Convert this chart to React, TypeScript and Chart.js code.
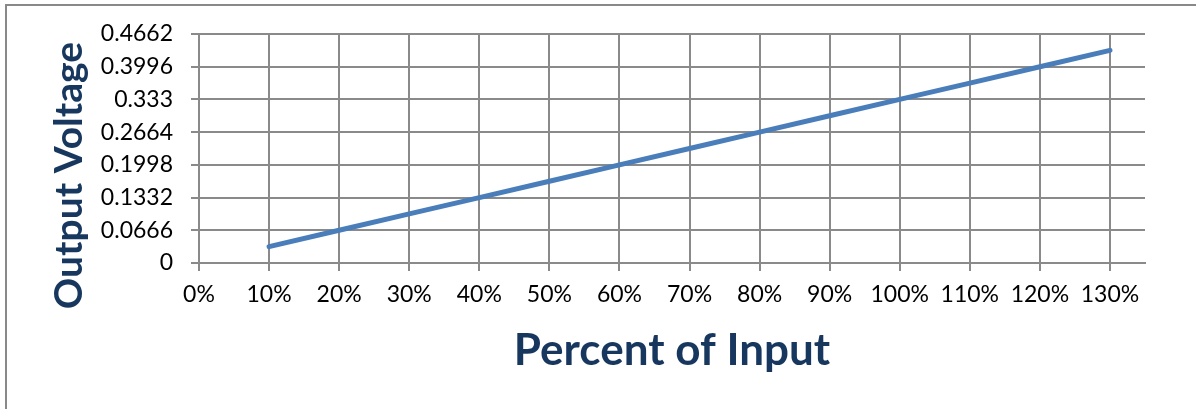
import React, { useEffect, useRef } from "react";
import { Chart, registerables } from "chart.js";

Chart.register(...registerables);

const xValues = [10, 20, 30, 40, 50, 60, 70, 80, 90, 100, 110, 120, 130];
const yValues = [0.0333, 0.0666, 0.0999, 0.1332, 0.1665, 0.1998, 0.2331, 0.2664, 0.2997, 0.333, 0.3663, 0.3996, 0.4329];
const xTicks = [0, 10, 20, 30, 40, 50, 60, 70, 80, 90, 100, 110, 120, 130];
const yTicks = [0, 0.0666, 0.1332, 0.1998, 0.2664, 0.333, 0.3996, 0.4662];
const xTitle = "Percent of Input";
const yTitle = "Output Voltage";

const TITLE_COLOR = "#17375E";
const GRID_COLOR = "#8a8a8a";

export default function App() {
  const ref = useRef<HTMLCanvasElement | null>(null);

  useEffect(() => {
    if (!ref.current) return;
    const yTitlePlugin = {
      id: "yTitlePlugin",
      afterDraw(chart: any) {
        const ctx = chart.ctx;
        ctx.save();
        ctx.translate(82, 175.5);
        ctx.rotate(-Math.PI / 2);
        ctx.font = "bold 39px Lato";
        ctx.fillStyle = TITLE_COLOR;
        ctx.textAlign = "center";
        ctx.textBaseline = "alphabetic";
        ctx.fillText(yTitle, 0, 0);
        ctx.restore();
      },
    };
    const chart = new Chart(ref.current, {
      type: "line",
      data: {
        datasets: [
          {
            data: xValues.map((x, i) => ({ x, y: yValues[i] })),
            borderColor: "#4a7ebb",
            borderWidth: 5,
            borderCapStyle: "round",
            pointRadius: 0,
            fill: false,
            tension: 0,
          },
        ],
      },
      options: {
        animation: false,
        responsive: false,
        devicePixelRatio: 1,
        layout: { padding: { left: 0, right: 51, top: 34, bottom: 0 } },
        plugins: { legend: { display: false }, tooltip: { enabled: false } },
        scales: {
          x: {
            type: "linear",
            min: 0,
            max: 135,
            afterBuildTicks: (scale: any) => {
              scale.ticks = xTicks.map((v) => ({ value: v }));
            },
            afterFit: (scale: any) => {
              scale.height = 146;
            },
            ticks: {
              color: "#000",
              font: { family: "Lato", size: 23 },
              padding: 10,
              maxRotation: 0,
              autoSkip: false,
              callback: (v: any) => `${v}%`,
            },
            grid: { color: GRID_COLOR, lineWidth: 2, tickLength: 8, tickColor: GRID_COLOR },
            border: { color: GRID_COLOR, width: 2 },
            title: {
              display: true,
              text: xTitle,
              color: TITLE_COLOR,
              font: { family: "Lato", size: 44, weight: "bold" },
              padding: { top: 0, bottom: 32 },
            },
          },
          y: {
            type: "linear",
            min: 0,
            max: 0.4662,
            afterBuildTicks: (scale: any) => {
              scale.ticks = yTicks.map((v) => ({ value: v }));
            },
            afterFit: (scale: any) => {
              scale.width = 199;
            },
            ticks: {
              color: "#000",
              font: { family: "Lato", size: 23 },
              padding: 18,
              autoSkip: false,
              callback: (v: any) => String(Number(Number(v).toFixed(4))),
            },
            grid: { color: GRID_COLOR, lineWidth: 2, tickLength: 8, tickColor: GRID_COLOR },
            border: { color: GRID_COLOR, width: 2 },
          },
        },
      },
      plugins: [yTitlePlugin],
    } as any);
    return () => chart.destroy();
  }, []);

  return (
    <div style={{ position: "fixed", left: 0, top: 0, width: 1196, height: 409, overflow: "hidden", background: "#fff" }}>
      <div
        style={{
          position: "absolute",
          left: 5,
          top: 4,
          width: 1300,
          height: 500,
          borderLeft: "2px solid #898989",
          borderTop: "2px solid #898989",
        }}
      />
      <canvas ref={ref} width={1196} height={409} style={{ position: "absolute", left: 0, top: 0, width: 1196, height: 409 }} />
    </div>
  );
}
